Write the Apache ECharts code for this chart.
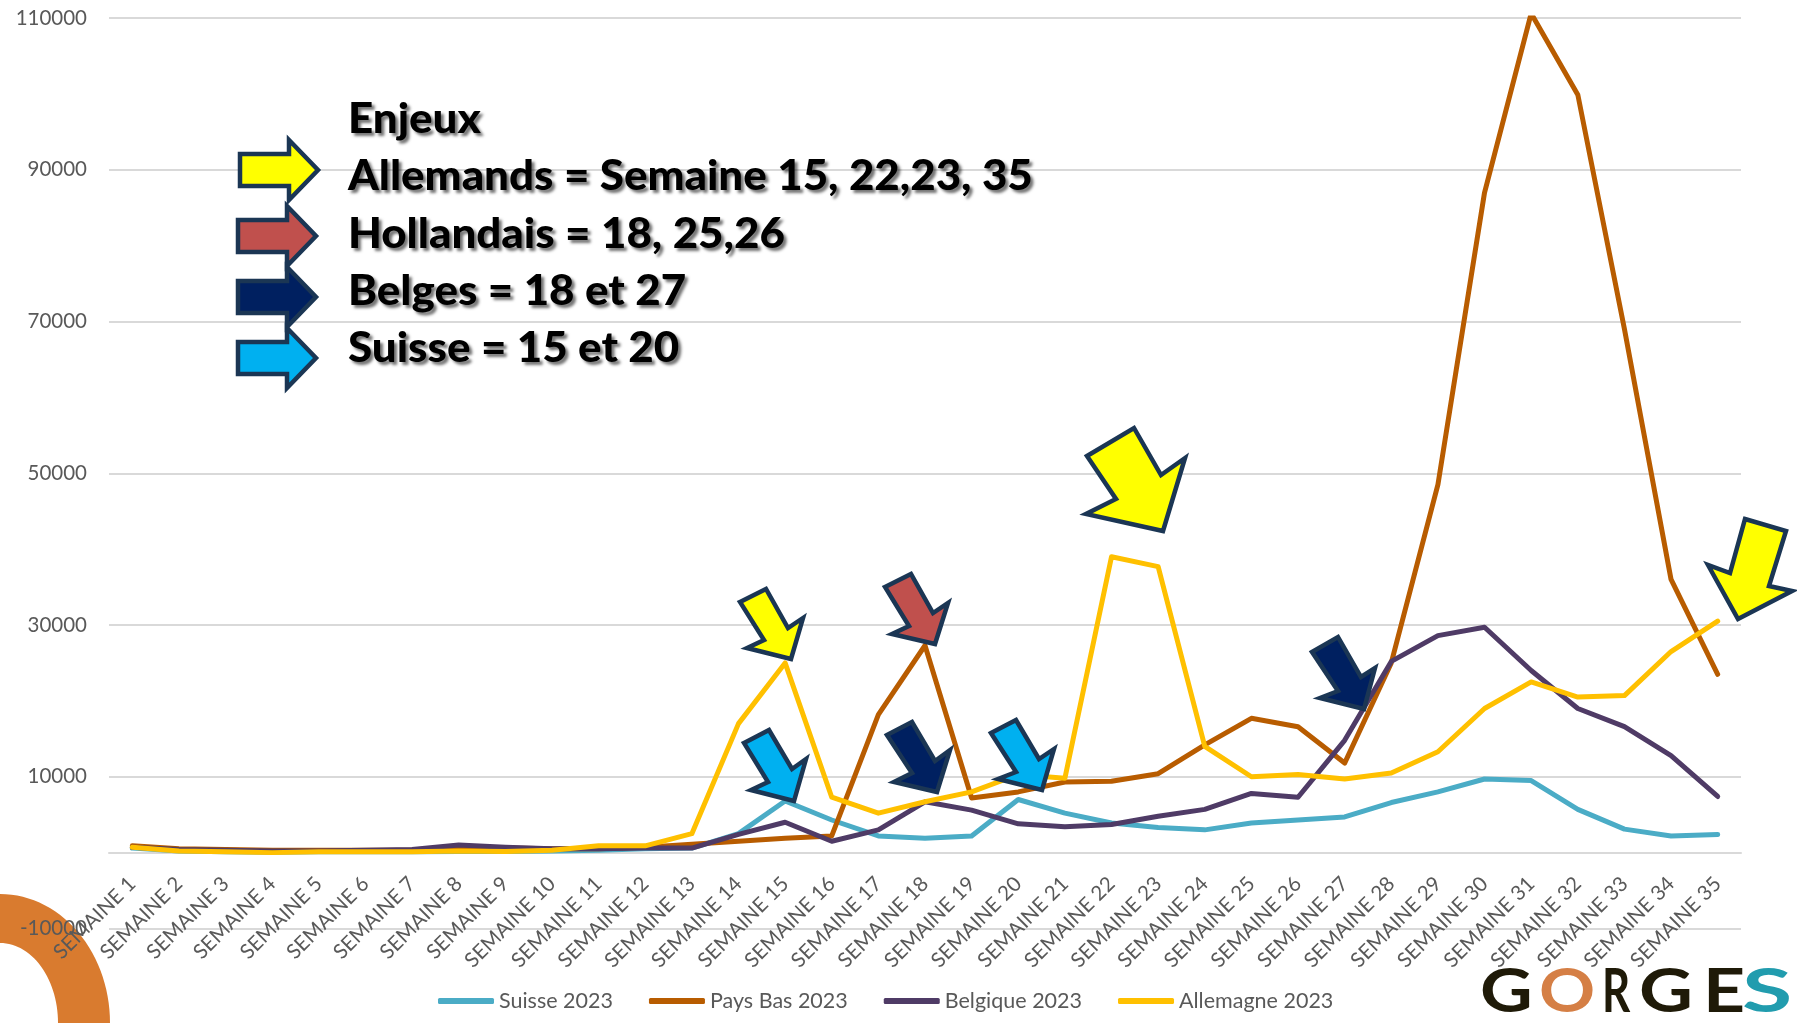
<!DOCTYPE html>
<html><head><meta charset="utf-8">
<style>html,body{margin:0;padding:0;background:#fff}#c{width:1797px;height:1023px}</style>
<script src="https://cdn.jsdelivr.net/npm/echarts@6/dist/echarts.min.js"></script>
</head><body><div id="c"></div>
<script>
const weeks = Array.from({length:35},(_,i)=>'SEMAINE '+(i+1));
const suisse = [600,200,100,50,100,100,100,150,150,200,300,500,600,2500,6800,4300,2200,1900,2200,7000,5200,3900,3300,3000,3900,4300,4700,6600,8000,9700,9500,5700,3100,2200,2400];
const paysBas = [900,500,400,300,300,300,300,500,600,500,500,700,1100,1500,1900,2200,18200,27300,7200,8000,9300,9400,10400,14200,17700,16600,11800,25000,48500,87000,110600,99900,69000,36000,23500];
const belgique = [700,400,300,200,200,300,400,1000,700,500,500,600,600,2400,4000,1500,3000,6700,5600,3800,3400,3700,4800,5700,7800,7300,14800,25200,28600,29700,24000,19000,16600,12800,7400];
const allemagne = [700,200,100,0,100,100,100,200,150,300,900,900,2500,17000,25000,7300,5200,6700,8000,10300,9800,39000,37700,14000,10000,10300,9700,10500,13300,19000,22500,20500,20700,26500,30500];
const yMin=-10000, yMax=110000, yStep=20000;
const noteLines = ['Enjeux','Allemands = Semaine 15, 22,23, 35','Hollandais = 18, 25,26','Belges = 18 et 27','Suisse = 15 et 20'];
const logoLetters = ['G','O','R','G','E','S'];

const FONT='Lato', GREY='#595959', EDGE='#1B3654';
const YEL='#FFFF00', RED='#C0504D', NAVY='#002060', SKY='#00B0F0';
function poly(points,fill){return {type:'polygon',z:50,shape:{points},style:{fill,stroke:EDGE,lineWidth:4.5,lineJoin:'miter',miterLimit:10}};}
function hArrow(l,cy,fill){return poly([[l,cy-16],[l+49,cy-16],[l+49,cy-30],[l+78,cy],[l+49,cy+30],[l+49,cy+16],[l,cy+16]],fill);}
const arrows=[
 hArrow(240,170,YEL),hArrow(238,236,RED),hArrow(238,297,NAVY),hArrow(238,358,SKY),
 poly([[740,602],[766,589],[788,628],[803,618],[791,659],[747,648],[764,640]],YEL),
 poly([[885,587],[911,574],[933,613],[948,603],[935,644],[892,634],[909,626]],RED),
 poly([[744,743],[769,730],[792,769],[806,759],[794,801],[751,790],[768,782]],SKY),
 poly([[887,735],[912,722],[935,761],[950,750],[937,792],[894,782],[912,773]],NAVY),
 poly([[991,733],[1016,720],[1039,759],[1054,749],[1042,790],[998,779],[1016,772]],SKY),
 poly([[1087,456],[1134,428],[1161,475],[1185,458],[1163,531],[1086,514],[1116,499]],YEL),
 poly([[1312,652],[1338,637],[1361,677],[1375,668],[1364,709],[1320,698],[1338,691]],NAVY),
 poly([[1745,519],[1786,531],[1769,586],[1792,591],[1738,619],[1708,565],[1730,573]],YEL)
];
const noteY=[119,176,234,291,348];
const notes=noteLines.map((t,i)=>({type:'text',z:60,x:348,y:noteY[i],scaleX:1.045,style:{text:t,font:'900 42px '+FONT,fill:'#000',textVerticalAlign:'middle',textShadowColor:'rgba(0,0,0,0.55)',textShadowBlur:3,textShadowOffsetX:3,textShadowOffsetY:3}}));
const logoX=[1480,1539,1602,1639,1703,1742];
const logoSX=[1.19,1.14,0.72,1.22,1.2,1.5];
const logoC=['#1F1A08','#D57F45','#1F1A08','#1F1A08','#1F1A08','#219CAE'];
const logo=logoLetters.map((t,i)=>({type:'text',z:60,x:logoX[i],y:992,scaleX:logoSX[i],style:{text:t,font:'700 61px '+FONT,fill:logoC[i],textVerticalAlign:'middle'}}));
const ringPts=[];
for(let a=0;a<=90;a+=3){const r=a*Math.PI/180;ringPts.push([110*Math.sin(r),1023-129*Math.cos(r)]);}
for(let a=90;a>=0;a-=3){const r=a*Math.PI/180;ringPts.push([58*Math.sin(r),1023-80*Math.cos(r)]);}
const ring={type:'polygon',z:-1,shape:{points:ringPts},style:{fill:'#D97B2F'}};

function line(name,data,color){return {name,type:'line',data,symbol:'none',smooth:false,
  lineStyle:{color,width:5,cap:'round',join:'round'},itemStyle:{color},emphasis:{disabled:true}};}
const chart=echarts.init(document.getElementById('c'),null,{renderer:'canvas'});
chart.setOption({
 animation:false,backgroundColor:'#fff',
 grid:{left:109,right:56,top:18,bottom:94.5,containLabel:false,outerBoundsMode:'none'},
 xAxis:{type:'category',data:weeks,boundaryGap:true,
  axisTick:{show:false},axisLine:{onZero:true,lineStyle:{color:'#D9D9D9',width:2}},
  axisLabel:{rotate:45,interval:0,margin:-48,color:GREY,fontFamily:FONT,fontSize:20.5,hideOverlap:false}},
 yAxis:{type:'value',min:yMin,max:yMax,interval:yStep,
  axisLine:{show:false},axisTick:{show:false},
  splitLine:{lineStyle:{color:'#D9D9D9',width:2}},
  axisLabel:{color:GREY,fontFamily:FONT,fontSize:20.5,margin:22,formatter:v=>String(v)}},
 legend:{left:433,top:985,icon:'roundRect',itemWidth:56,itemHeight:6,itemGap:36,
  textStyle:{color:GREY,fontFamily:FONT,fontSize:21.5},
  data:['Suisse 2023','Pays Bas 2023','Belgique 2023','Allemagne 2023']},
 series:[line('Suisse 2023',suisse,'#4BACC6'),line('Pays Bas 2023',paysBas,'#B85C00'),line('Belgique 2023',belgique,'#4F3B66'),line('Allemagne 2023',allemagne,'#FFC000')],
 graphic:{elements:[ring,...arrows,...notes,...logo]}
});
</script></body></html>
